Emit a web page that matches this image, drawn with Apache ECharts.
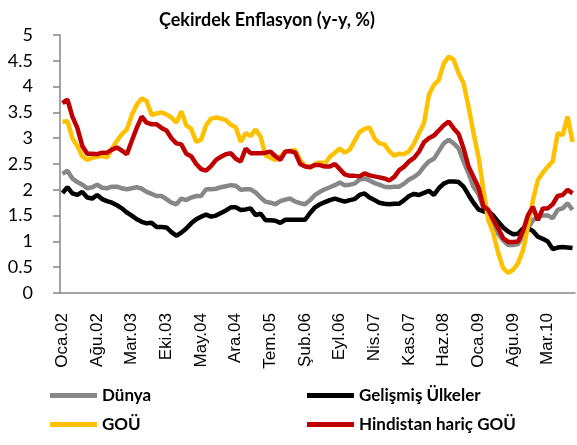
<!DOCTYPE html>
<html>
<head>
<meta charset="utf-8">
<script src="https://cdn.jsdelivr.net/npm/echarts@6/dist/echarts.min.js"></script>
<style>
  html, body { margin: 0; padding: 0; background: #fff; }
  #chart { width: 577px; height: 445px; }
</style>
</head>
<body>
<div id="chart"></div>
<script>
  // ay etiketleri (Oca.02 - Ağu.10)
  var months = ['Oca', 'Şub', 'Mar', 'Nis', 'May', 'Haz', 'Tem', 'Ağu', 'Eyl', 'Eki', 'Kas', 'Ara'];
  var years = ['02', '03', '04', '05', '06', '07', '08', '09', '10'];
  var monthCount = 104;

  var dunya = [
    2.31, 2.37, 2.22, 2.15, 2.10, 2.03, 2.05, 2.10, 2.04, 2.03, 2.06, 2.06,
    2.03, 2.01, 2.03, 2.05, 2.02, 1.96, 1.92, 1.88, 1.88, 1.82, 1.75, 1.72,
    1.83, 1.80, 1.85, 1.88, 1.88, 2.01, 2.01, 2.02, 2.05, 2.07, 2.09, 2.08,
    2.00, 2.01, 2.01, 1.95, 1.85, 1.77, 1.75, 1.72, 1.78, 1.81, 1.83, 1.77,
    1.74, 1.72, 1.80, 1.90, 1.96, 2.01, 2.05, 2.09, 2.14, 2.09, 2.10, 2.12,
    2.20, 2.22, 2.18, 2.13, 2.10, 2.06, 2.05, 2.06, 2.06, 2.12, 2.20, 2.25,
    2.32, 2.45, 2.55, 2.60, 2.75, 2.90, 2.97, 2.90, 2.80, 2.55, 2.32, 2.06,
    1.92, 1.65, 1.55, 1.38, 1.15, 1.02, 0.93, 0.93, 0.95, 1.10, 1.25, 1.41,
    1.48, 1.50, 1.50, 1.45, 1.61, 1.64, 1.74, 1.61
  ];
  var gelismis = [
    1.94, 2.05, 1.93, 1.90, 1.96, 1.85, 1.83, 1.90, 1.82, 1.78, 1.75, 1.70,
    1.64, 1.56, 1.50, 1.43, 1.38, 1.35, 1.36, 1.28, 1.28, 1.27, 1.18, 1.11,
    1.17, 1.25, 1.35, 1.43, 1.48, 1.52, 1.48, 1.50, 1.55, 1.60, 1.66, 1.66,
    1.61, 1.62, 1.64, 1.51, 1.54, 1.41, 1.41, 1.40, 1.36, 1.42, 1.42, 1.42,
    1.42, 1.42, 1.55, 1.66, 1.72, 1.76, 1.80, 1.83, 1.80, 1.77, 1.80, 1.82,
    1.90, 1.93, 1.85, 1.80, 1.75, 1.73, 1.72, 1.73, 1.73, 1.80, 1.88, 1.92,
    1.90, 1.94, 1.98, 1.90, 2.03, 2.12, 2.16, 2.16, 2.15, 2.06, 1.90, 1.75,
    1.62, 1.58, 1.58, 1.50, 1.38, 1.27, 1.19, 1.14, 1.15, 1.25, 1.25, 1.20,
    1.09, 1.05, 1.00, 0.85, 0.88, 0.89, 0.88, 0.87
  ];
  var gou = [
    3.32, 3.33, 3.00, 2.85, 2.65, 2.58, 2.62, 2.64, 2.66, 2.63, 2.80, 2.95,
    3.08, 3.17, 3.45, 3.65, 3.77, 3.72, 3.45, 3.48, 3.50, 3.46, 3.40, 3.30,
    3.52, 3.25, 3.18, 2.93, 2.97, 3.25, 3.38, 3.40, 3.38, 3.35, 3.26, 3.21,
    2.93, 3.10, 3.04, 3.17, 3.03, 2.67, 2.62, 2.58, 2.65, 2.74, 2.75, 2.77,
    2.58, 2.46, 2.43, 2.50, 2.53, 2.51, 2.64, 2.72, 2.80, 2.72, 2.78, 2.95,
    3.12, 3.18, 3.21, 3.00, 2.90, 2.88, 2.75, 2.66, 2.70, 2.69, 2.75, 2.90,
    3.10, 3.29, 3.84, 4.03, 4.13, 4.45, 4.58, 4.52, 4.26, 4.06, 3.61, 3.10,
    2.64, 2.00, 1.41, 1.16, 0.77, 0.48, 0.39, 0.45, 0.58, 0.83, 1.29, 1.80,
    2.19, 2.33, 2.45, 2.55, 3.10, 3.06, 3.42, 2.93
  ];
  var hindistanHaric = [
    3.68, 3.75, 3.42, 3.20, 2.85, 2.70, 2.70, 2.69, 2.72, 2.72, 2.78, 2.82,
    2.76, 2.69, 2.95, 3.20, 3.42, 3.30, 3.27, 3.27, 3.20, 3.15, 3.00, 2.90,
    2.88, 2.70, 2.65, 2.50, 2.40, 2.37, 2.46, 2.58, 2.64, 2.69, 2.71, 2.60,
    2.55, 2.80, 2.71, 2.71, 2.71, 2.72, 2.74, 2.65, 2.58, 2.74, 2.75, 2.72,
    2.50, 2.45, 2.44, 2.48, 2.48, 2.45, 2.45, 2.50, 2.40, 2.30, 2.27, 2.27,
    2.26, 2.32, 2.28, 2.26, 2.24, 2.22, 2.18, 2.25, 2.38, 2.45, 2.55, 2.62,
    2.74, 2.92, 3.00, 3.05, 3.15, 3.25, 3.32, 3.19, 3.08, 2.80, 2.45, 2.25,
    2.05, 1.68, 1.61, 1.42, 1.25, 1.06, 0.99, 0.99, 1.00, 1.20, 1.51, 1.67,
    1.41, 1.64, 1.64, 1.72, 1.88, 1.90, 2.00, 1.93
  ];

  var categories = [];
  for (var i = 0; i < monthCount; i++) {
    categories.push(months[i % 12] + '.' + years[Math.floor(i / 12)]);
  }

  var axisColor = '#868686';
  var chart = echarts.init(document.getElementById('chart'));

  chart.setOption({
    animation: false,
    title: {
      text: 'Çekirdek Enflasyon (y-y, %)',
      left: 262,
      top: 6,
      textAlign: 'center',
      textStyle: { fontFamily: 'Lato', fontWeight: 'bold', fontSize: 18, color: '#000' }
    },
    legend: [
      {
        left: 45, top: 381, orient: 'vertical', itemGap: 10,
        icon: 'rect', itemWidth: 47, itemHeight: 5,
        textStyle: { fontFamily: 'Lato', fontWeight: 'bold', fontSize: 17, color: '#000', lineHeight: 19 },
        data: ['Dünya', 'GOÜ']
      },
      {
        left: 302, top: 381, orient: 'vertical', itemGap: 10,
        icon: 'rect', itemWidth: 47, itemHeight: 5,
        textStyle: { fontFamily: 'Lato', fontWeight: 'bold', fontSize: 17, color: '#000', lineHeight: 19 },
        data: ['Gelişmiş Ülkeler', 'Hindistan hariç GOÜ']
      }
    ],
    grid: { left: 60, right: 2, top: 35, bottom: 152 },
    xAxis: {
      type: 'category',
      data: categories,
      boundaryGap: true,
      axisLine: { lineStyle: { color: axisColor, width: 1.5 } },
      axisTick: { interval: 6, length: 6, lineStyle: { color: axisColor, width: 1.5 } },
      axisLabel: {
        interval: 6, rotate: 90, margin: 20,
        fontFamily: 'Liberation Sans', fontSize: 17, color: '#000'
      },
      splitLine: { show: false }
    },
    yAxis: {
      type: 'value',
      min: 0, max: 5, interval: 0.5,
      axisLine: { show: true, lineStyle: { color: axisColor, width: 1.5 } },
      axisTick: { show: true, length: 7, lineStyle: { color: axisColor, width: 1.5 } },
      axisLabel: { margin: 27, fontFamily: 'Lato', fontSize: 18, color: '#000' },
      splitLine: { show: false }
    },
    series: [
      { name: 'Dünya', type: 'line', data: dunya, symbol: 'none',
        itemStyle: { color: '#878787' }, lineStyle: { color: '#878787', width: 4.5 } },
      { name: 'Gelişmiş Ülkeler', type: 'line', data: gelismis, symbol: 'none',
        itemStyle: { color: '#000000' }, lineStyle: { color: '#000000', width: 4.5 } },
      { name: 'GOÜ', type: 'line', data: gou, symbol: 'none',
        itemStyle: { color: '#FFC000' }, lineStyle: { color: '#FFC000', width: 4.5 } },
      { name: 'Hindistan hariç GOÜ', type: 'line', data: hindistanHaric, symbol: 'none',
        itemStyle: { color: '#C00000' }, lineStyle: { color: '#C00000', width: 4.5 } }
    ]
  });
</script>
</body>
</html>
